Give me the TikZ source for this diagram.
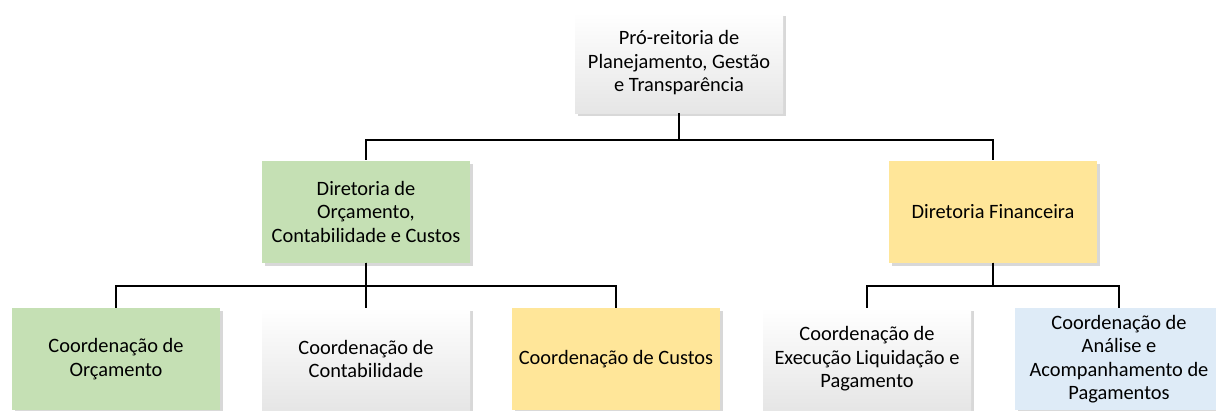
\documentclass[tikz,border=0pt]{standalone}
\usepackage{fontspec}
\setmainfont{Carlito}
\usepackage{tikz}
\usetikzlibrary{shadows}
\usetikzlibrary{calc}

\definecolor{boxgreen}{HTML}{C5E0B4}
\definecolor{boxyellow}{HTML}{FFE699}
\definecolor{boxblue}{HTML}{DEEBF7}

\begin{document}
\begin{tikzpicture}[x=1pt,y=-1pt,
    unit/.style={rectangle,minimum width=208pt,minimum height=102pt,
        align=center,inner sep=2pt,
        font=\fontsize{20.4}{23.5}\selectfont,
        drop shadow={shadow xshift=3pt,shadow yshift=-3pt,opacity=0.25,fill=black!60}},
    plain/.style={unit,top color=white,middle color=white,bottom color=black!10},
    link/.style={line width=2.6pt,draw=black}]
\clip (0,0) rectangle (1216,410);
\fill[white] (0,0) rectangle (1216,410);

% top level
\node[plain,minimum height=100pt] (PRO) at (679,63)
    {Pró-reitoria de\\Planejamento, Gestão\\e Transparência};

% directorates
\node[unit,fill=boxgreen] (DOC) at (366,211.5)
    {Diretoria de\\Orçamento,\\Contabilidade e Custos};
\node[unit,fill=boxyellow] (DF) at (993,211.5) {Diretoria Financeira};

% coordinations
\node[unit,fill=boxgreen] (CO) at (116,359) {Coordenação de\\Orçamento};
\node[plain] (CC) at (366,359) {Coordenação de\\Contabilidade};
\node[unit,fill=boxyellow] (CCU) at (616,359) {Coordenação de Custos};
\node[plain] (CE) at (867,359) {Coordenação de\\Execução Liquidação e\\Pagamento};
\node[unit,fill=boxblue] (CA) at (1119,359)
    {Coordenação de\\Análise e\\Acompanhamento de\\Pagamentos};

% connectors
\coordinate (B0) at (679,140);
\coordinate (B1) at (366,286);
\coordinate (B2) at (993,286);
\foreach \c in {DOC,DF}{
    \draw[link] (PRO.south) -- (B0) -| (\c.north);
}
\foreach \c in {CO,CC,CCU}{
    \draw[link] (DOC.south) -- (B1) -| (\c.north);
}
\foreach \c in {CE,CA}{
    \draw[link] (DF.south) -- (B2) -| (\c.north);
}
\end{tikzpicture}
\end{document}
